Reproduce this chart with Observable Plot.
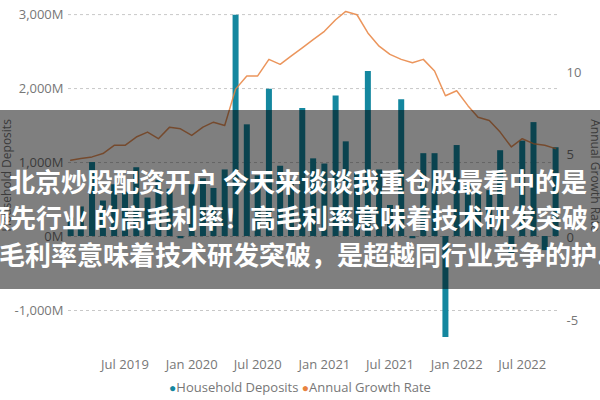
<!DOCTYPE html>
<html>
<head>
<meta charset="utf-8">
<script src="https://cdn.jsdelivr.net/npm/d3@7"></script>
<script src="https://cdn.jsdelivr.net/npm/@observablehq/plot@0.6"></script>
<style>
  html, body { margin: 0; padding: 0; background: #fff; }
  #wrap { position: relative; width: 600px; height: 400px; overflow: hidden; font-family: "Open Sans", sans-serif; }
  #legend { position: absolute; left: 0; top: 378px; width: 600px; text-align: center; font-size: 13px; color: #777; }
  #legend span.dot { font-size: 12px; }
  #band { position: absolute; left: 0; top: 110px; width: 600px; height: 179px; background: rgba(0,0,0,0.5); overflow: hidden; }
  #band div { position: absolute; white-space: nowrap; color: #fff; font-family: "Noto Sans CJK SC", sans-serif; font-weight: 700; font-size: 26px; line-height: 30px; }
</style>
</head>
<body>
<div id="wrap">
  <div id="chart"></div>
  <div id="legend"></div>
  <div id="band"></div>
</div>
<script>
// ---- data ----
const months = [
  "2019-02","2019-03","2019-04","2019-05","2019-06","2019-07","2019-08","2019-09","2019-10","2019-11","2019-12",
  "2020-01","2020-02","2020-03","2020-04","2020-05","2020-06","2020-07","2020-08","2020-09","2020-10","2020-11","2020-12",
  "2021-01","2021-02","2021-03","2021-04","2021-05","2021-06","2021-07","2021-08","2021-09","2021-10","2021-11","2021-12",
  "2022-01","2022-02","2022-03","2022-04","2022-05","2022-06","2022-07","2022-08","2022-09","2022-10"
];
const householdDeposits = [
  250, 400, 1000, 480, 700, 600, 930, 520, 760, 640, -30,
  700, 780, 650, 900, 2990, 1510, 820, 1990, 950, 760, 1730, 1050,
  980, 1900, 1280, 850, 2230, 900, 420, 1850, -30, 1120, 1120, -1365,
  1230, 700, 600, 620, 1160, -230, 1290, 1540, -190, 1200
];
const annualGrowthRate = [
  4.7, 4.8, 4.9, 5.1, 5.6, 5.6, 6.1, 6.4, 6.0, 6.7, 6.6,
  6.2, 6.7, 7.0, 6.8, 9.0, 9.8, 9.8, 10.8, 10.5, 11.0, 11.5, 12.0,
  12.5, 13.2, 13.7, 13.5, 12.4, 11.6, 11.1, 10.8, 10.6, 10.8, 10.1, 8.6,
  8.9, 8.0, 7.3, 7.1, 6.4, 5.5, 6.0, 5.7, 5.6, 5.4
];
const depositTicks = [-1000, 0, 1000, 2000, 3000];
const rateTicks = [-5, 0, 5, 10];
const xTickMonths = ["2019-07","2020-01","2020-07","2021-01","2021-07","2022-01","2022-07"];
const seriesNames = ["Household Deposits", "Annual Growth Rate"];
const seriesColors = ["#14879f", "#e8833f"];
const captionLines = [
  "北京炒股配资开户 今天来谈谈我重仓股最看中的是",
  "领先行业 的高毛利率！高毛利率意味着技术研发突破，",
  "毛利率意味着技术研发突破，是超越同行业竞争的护..."
];

// ---- build ----
const parse = d3.utcParse("%Y-%m");
const data = months.map((m, i) => ({date: parse(m), dep: householdDeposits[i], rate: annualGrowthRate[i]}));
// secondary axis mapping (rate -> deposits units)
const K = 223.4, C = -18;
const toDep = r => r * K + C;
const fmtDep = d => (d3.format(",")(d) + "M").replace("−", "-");

const plot = Plot.plot({
  width: 600,
  height: 375,
  marginLeft: 68,
  marginRight: 42,
  marginTop: 3,
  marginBottom: 28,
  style: {fontFamily: "'Open Sans', sans-serif", fontSize: "13px", color: "#777", background: "transparent"},
  x: {type: "utc", domain: [new Date(Date.UTC(2019,0,26)), new Date(Date.UTC(2022,9,9))]},
  y: {domain: [-1500, 3150]},
  marks: [
    Plot.gridY(depositTicks, {stroke: "#c8c8c8", strokeOpacity: 1, strokeDasharray: "3,3"}),
    Plot.ruleX(data, {x: "date", y1: 0, y2: "dep", stroke: seriesColors[0], strokeWidth: 6}),
    Plot.line(data, {x: "date", y: d => toDep(d.rate), stroke: seriesColors[1], strokeWidth: 1.5, strokeOpacity: 0.85, curve: "linear"}),
    Plot.axisY(depositTicks, {anchor: "left", tickSize: 0, tickPadding: 5, tickFormat: fmtDep, label: null}),
    Plot.axisY(rateTicks.map(toDep), {anchor: "right", tickSize: 0, tickPadding: 8, label: null,
      tickFormat: d => String(Math.round((d - C) / K))}),
    Plot.axisX(xTickMonths.map(parse), {tickSize: 0, tickPadding: 12, tickFormat: d3.utcFormat("%b %Y"), label: null}),
    Plot.text([seriesNames[0]], {frameAnchor: "left", dx: -61, rotate: -90, textAnchor: "middle", fill: "#777", fontSize: 12}),
    Plot.text([seriesNames[1]], {frameAnchor: "right", dx: 36, rotate: 90, textAnchor: "middle", fill: "#777", fontSize: 12})
  ]
});
document.getElementById("chart").appendChild(plot);

// legend
const legend = document.getElementById("legend");
seriesNames.forEach((n, i) => {
  const dot = document.createElement("span");
  dot.className = "dot";
  dot.style.color = seriesColors[i];
  dot.textContent = "●";
  legend.appendChild(dot);
  legend.appendChild(document.createTextNode(n + (i < seriesNames.length - 1 ? " " : "")));
});

// overlay caption
const band = document.getElementById("band");
const lefts = [9, -16, -1];
const centers = [71, 107, 144];
captionLines.forEach((t, i) => {
  const d = document.createElement("div");
  d.textContent = t;
  d.style.left = lefts[i] + "px";
  d.style.top = (centers[i] - 15) + "px";
  band.appendChild(d);
});
</script>
</body>
</html>
